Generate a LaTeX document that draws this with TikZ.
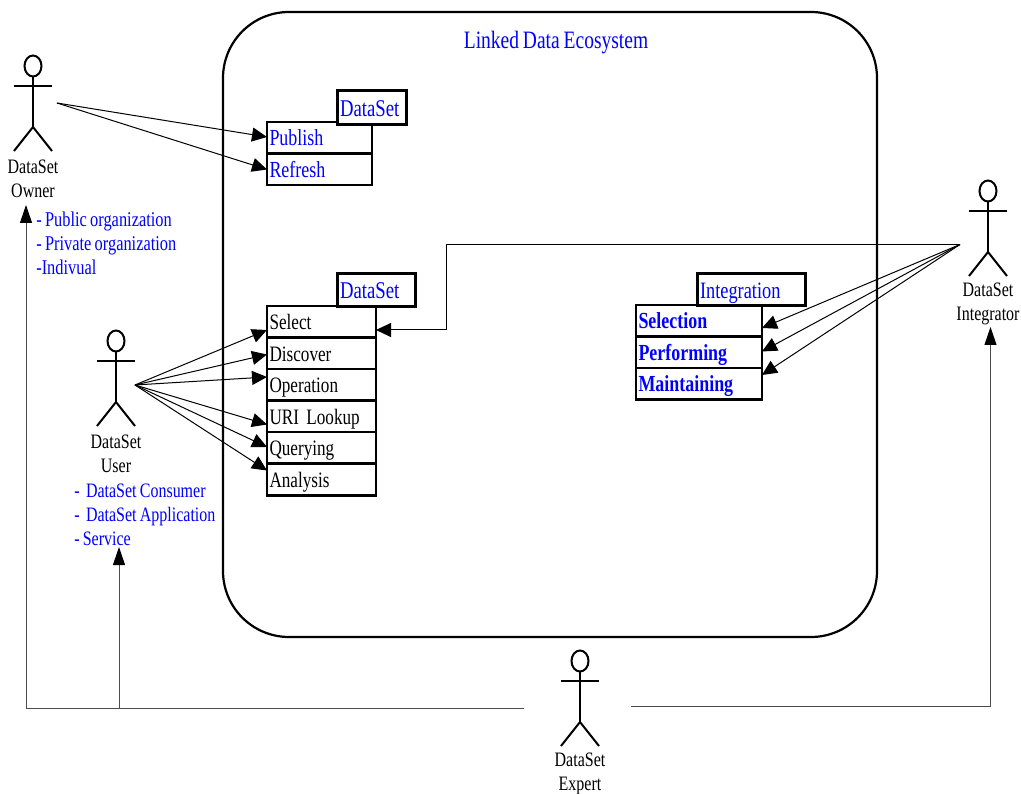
\documentclass[tikz,border=0pt]{standalone}
\usepackage{fontspec}
\setmainfont[FakeStretch=0.78,WordSpace=0.8]{Liberation Serif}
\usetikzlibrary{arrows.meta,positioning}

\begin{document}
\begin{tikzpicture}[
        x=1pt, y=-1pt,
        node distance=0pt,
        every node/.style={font=\fontsize{20.5}{24}\selectfont, outer sep=0pt},
        bluetext/.style={text=blue},
        notetext/.style={font=\fontsize{#1}{24}\selectfont, text=blue, anchor=west, align=left},
        biglabel/.style={font=\fontsize{23}{24}\selectfont},
        blacklabel/.style={font=\fontsize{22}{24}\selectfont},
        boldlabel/.style={font=\fontsize{23}{24}\selectfont\bfseries},
        actorline/.style={line width=2pt},
        row/.style={draw, line width=2.5pt, biglabel, text width=#1, inner xsep=2.5pt, inner ysep=0pt, minimum height=31.5pt, text height=21pt, text depth=5pt, align=left},
        titlebox/.style={draw, line width=2.4pt, fill=white, bluetext, font=\fontsize{24}{24}\selectfont, inner xsep=2.5pt, inner ysep=0pt, text height=20pt, text depth=2pt, anchor=north west, align=left},
        assoc/.style={line width=1pt, -{Triangle[length=15pt,width=14pt]}},
        escal/.style={line width=1pt, draw=black!70, -{Triangle[length=18pt,width=12pt,black]}},
        pics/actor/.style={code={
            \draw[actorline] (0,-20) ellipse (8.5 and 10.5);
            \draw[actorline] (0,-9.5) -- (0,41);
            \draw[actorline] (-19,0) -- (19,0);
            \draw[actorline] (-19,65) -- (0,41) -- (19,65);
            \node[align=center] at (0,93) {#1};
        }}
    ]

    \useasboundingbox (0,0) rectangle (1021,794);

    % Ecosystem
    \node (ecosystem) at (550,324.5) [draw, line width=2.2pt, rounded corners=66pt, minimum width=654pt, minimum height=625pt] {};
    \node (ecotitle) at (556,43) [bluetext, font=\fontsize{25}{24}\selectfont] {Linked Data Ecosystem};

    % Actors
    \pic at (33,86) {actor={DataSet\\Owner}};
    \pic at (116,361) {actor={DataSet\\User}};
    \pic at (988,211) {actor={DataSet\\Integrator}};
    \pic at (580,681) {actor={DataSet\\Expert}};

    \coordinate (owner) at (57,103);
    \coordinate (user) at (135,385);
    \coordinate (integrator) at (960,244.5);
    \coordinate (expertleft) at (524,708);
    \coordinate (expertright) at (631,706);

    % Actor notes
    \node (ownernote) at (33,243.5) [notetext=21] {- Public organization\\- Private organization\\-Indivual};
    \node (usernote) at (71,515) [notetext=20.5] {-\ \ DataSet Consumer\\-\ \ DataSet Application\\- Service};

    % Publishing rows
    \node (publish) at (319.5,138) [row=100pt, bluetext] {Publish};
    \node (refresh) [below=of publish, row=100pt, bluetext] {Refresh};
    \node (pubtitle) at (337.5,90.5) [titlebox, text width=64pt, minimum height=34pt] {DataSet};

    % Consuming rows
    \node (select) at (321.5,322) [row=104pt, blacklabel] {Select};
    \node (discover) [below=of select, row=104pt, blacklabel] {Discover};
    \node (operation) [below=of discover, row=104pt, blacklabel] {Operation};
    \node (lookup) [below=of operation, row=104pt, blacklabel] {URI Lookup};
    \node (querying) [below=of lookup, row=104pt, blacklabel] {Querying};
    \node (analysis) [below=of querying, row=104pt, blacklabel] {Analysis};
    \node (usetitle) at (337.5,273.5) [titlebox, text width=73pt, minimum height=33pt] {DataSet};

    % Integration rows
    \node (selection) at (699,321) [row=121pt, bluetext, boldlabel] {Selection};
    \node (performing) [below=of selection, row=121pt, bluetext, boldlabel] {Performing};
    \node (maintaining) [below=of performing, row=121pt, bluetext, boldlabel] {Maintaining};
    \node (inttitle) at (697.5,273.5) [titlebox, text width=103pt, minimum height=32pt, font=\fontsize{23.5}{24}\selectfont] {Integration};

    % Edges
    \draw[assoc] (owner) -- ([yshift=1pt]publish.west);
    \draw[assoc] (owner) -- (refresh.west);

    \draw[assoc] (user) -- ([yshift=-8pt]select.west);
    \draw[assoc] (user) -- ([yshift=-1pt]discover.west);
    \draw[assoc] (user) -- ([yshift=8pt]operation.west);
    \draw[assoc] (user) -- ([yshift=-8pt]lookup.west);
    \draw[assoc] (user) -- ([yshift=1pt]querying.west);
    \draw[assoc] (user) -- ([yshift=9pt]analysis.west);

    \draw[assoc] (integrator) -- (446.5,244.5) -- (446.5,330) -- ([yshift=-8pt]select.east);
    \draw[assoc] (integrator) -- ([yshift=-7pt]selection.east);
    \draw[assoc] (integrator) -- ([yshift=1pt]performing.east);
    \draw[assoc] (integrator) -- ([yshift=9pt]maintaining.east);

    \draw[escal] (expertleft) -- (26,708) -- (26,205);
    \draw[escal] (119,708) -- (119,547);
    \draw[escal] (expertright) -- (990.5,706) -- (990.5,327);

\end{tikzpicture}
\end{document}
